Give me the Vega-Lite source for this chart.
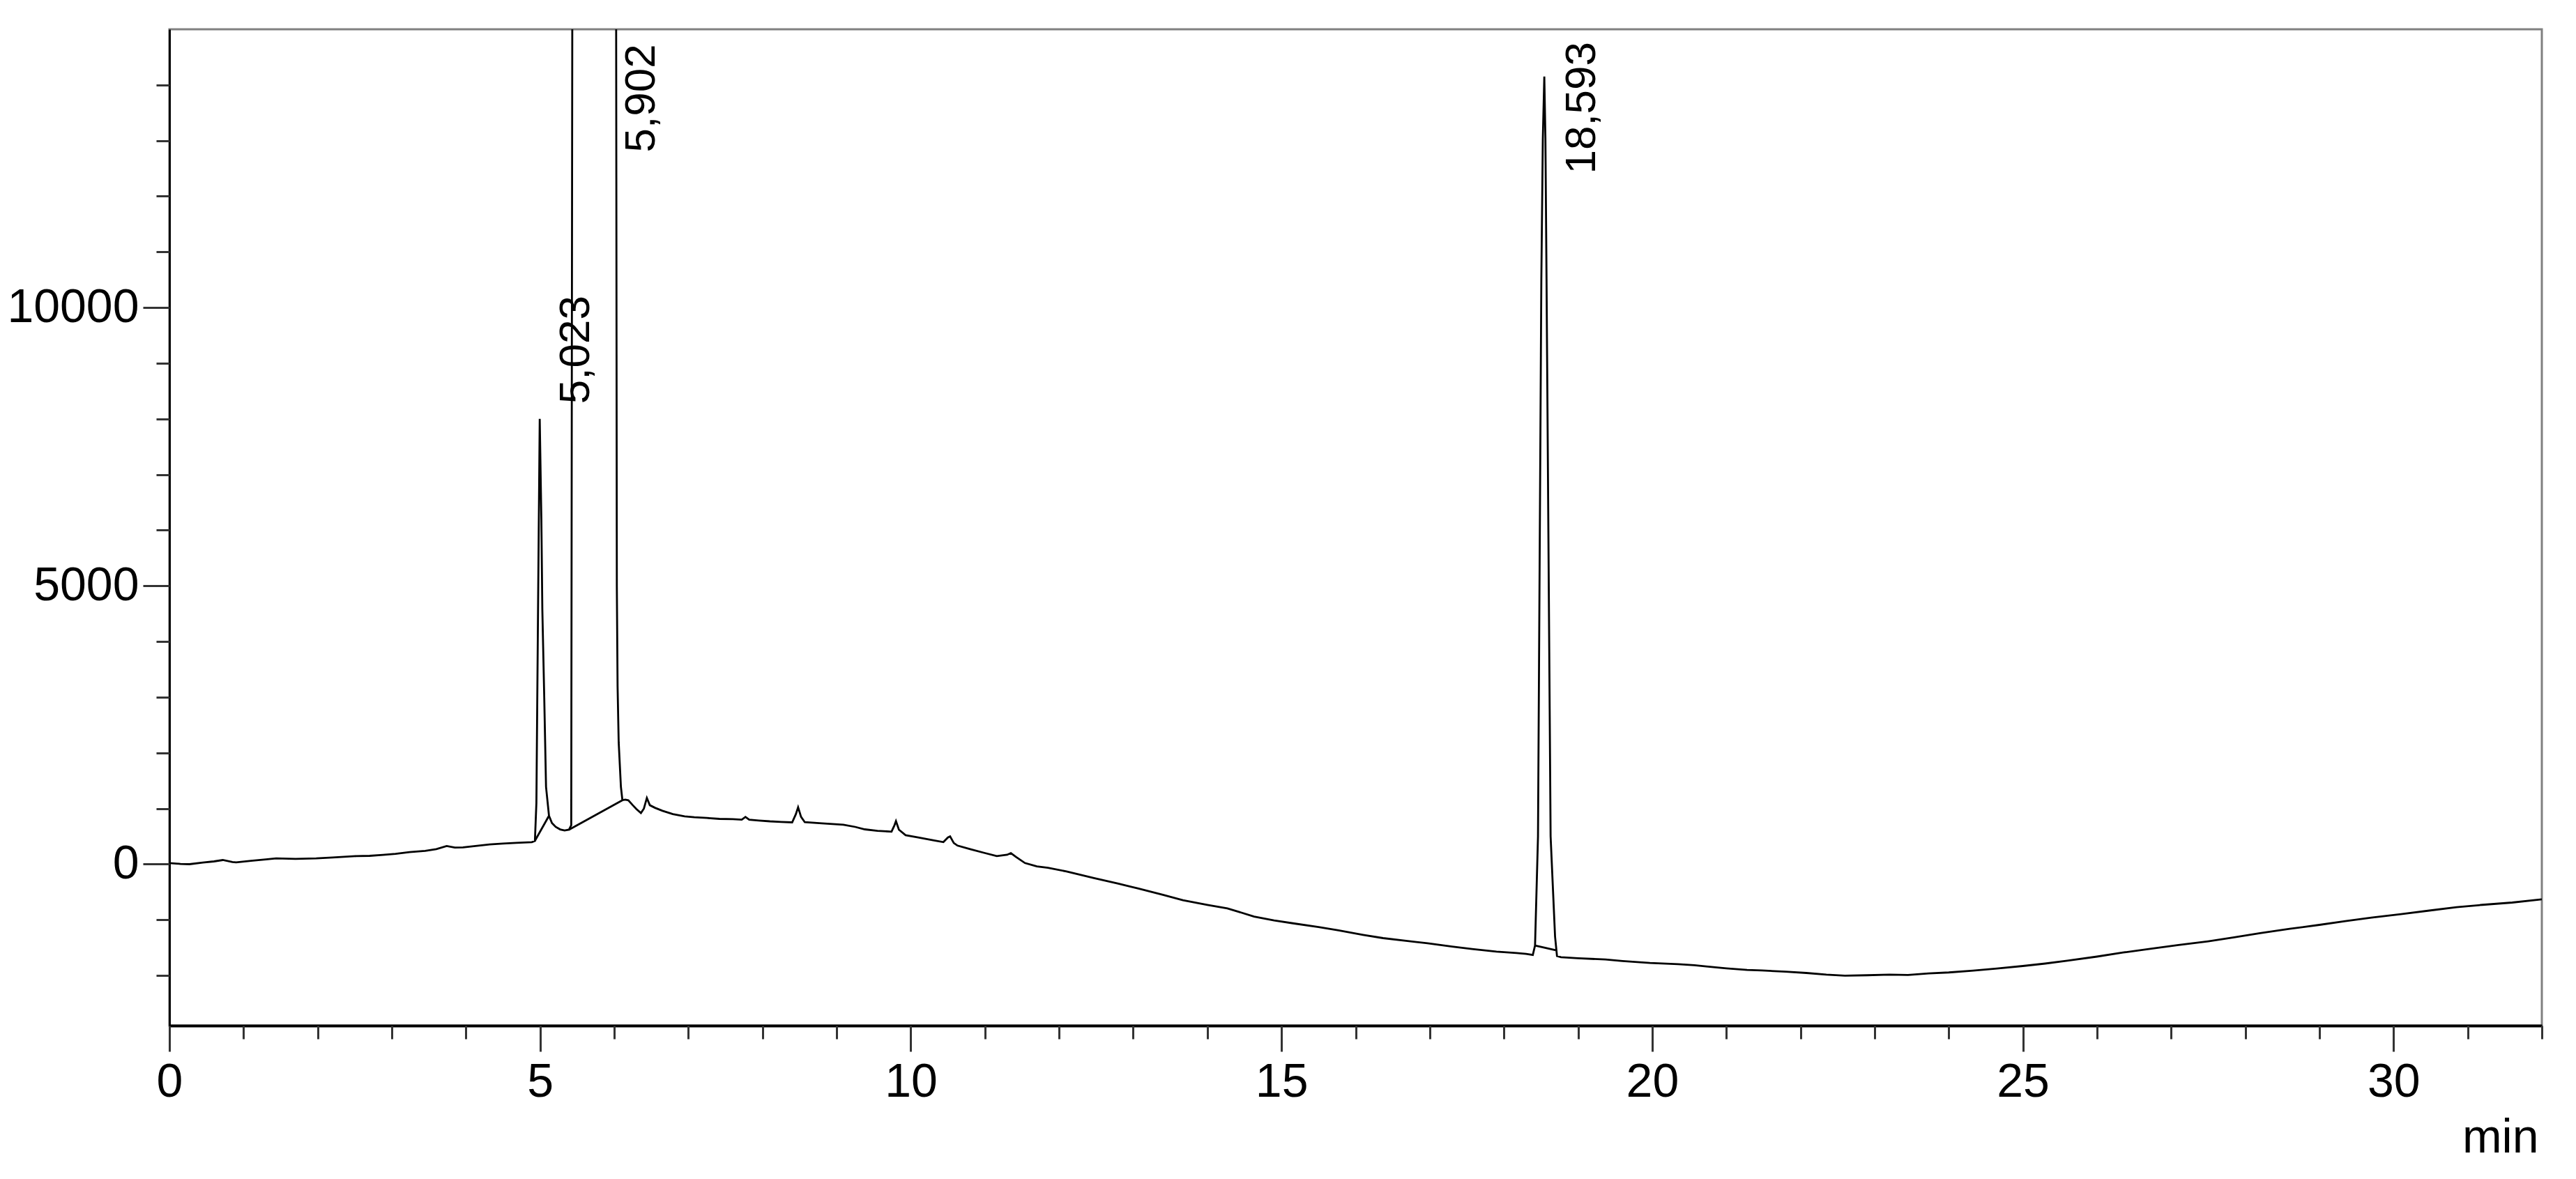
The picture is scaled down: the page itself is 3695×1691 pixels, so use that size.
{
  "$schema": "https://vega.github.io/schema/vega-lite/v6.json",
  "width": 3403,
  "height": 1429,
  "autosize": {"type": "none"},
  "padding": {"left": 243, "top": 42, "right": 49, "bottom": 220},
  "background": "white",
  "config": {
    "view": {"stroke": "#808080", "strokeWidth": 3},
    "font": "Liberation Sans",
    "axis": {"grid": false, "labelFont": "Liberation Sans", "titleFont": "Liberation Sans", "labelColor": "#000", "titleColor": "#000", "tickColor": "#333", "domainColor": "#000", "labelLimit": 0}
  },
  "datasets": {
    "trace": [
      {"t": 0, "v": 20}, {"t": 0.15, "v": 5}, {"t": 0.27, "v": 0}, {"t": 0.45, "v": 30}, {"t": 0.6, "v": 50}, {"t": 0.72, "v": 75}, {"t": 0.85, "v": 40}, {"t": 0.9, "v": 33}, {"t": 1.1, "v": 60}, {"t": 1.3, "v": 85}, {"t": 1.44, "v": 104}, {"t": 1.7, "v": 95}, {"t": 1.98, "v": 104}, {"t": 2.2, "v": 120}, {"t": 2.52, "v": 146}, {"t": 2.7, "v": 150}, {"t": 2.88, "v": 167}, {"t": 3.05, "v": 185}, {"t": 3.24, "v": 217}, {"t": 3.45, "v": 240}, {"t": 3.6, "v": 271}, {"t": 3.74, "v": 326}, {"t": 3.85, "v": 300}, {"t": 3.96, "v": 301}, {"t": 4.15, "v": 330}, {"t": 4.32, "v": 355}, {"t": 4.5, "v": 370}, {"t": 4.68, "v": 384}, {"t": 4.89, "v": 397}, {"t": 4.93, "v": 420},
      {"t": 4.95, "v": 1100}, {"t": 4.975, "v": 5000}, {"t": 4.995, "v": 8000}, {"t": 5.017, "v": 6190}, {"t": 5.03, "v": 4580}, {"t": 5.056, "v": 2990}, {"t": 5.08, "v": 1390}, {"t": 5.12, "v": 870}, {"t": 5.16, "v": 740}, {"t": 5.21, "v": 670}, {"t": 5.27, "v": 625}, {"t": 5.33, "v": 606}, {"t": 5.39, "v": 620}, {"t": 5.42, "v": 700},
      {"t": 5.435, "v": 16000}, {"t": 5.902, "v": 40000}, {"t": 6.025, "v": 16000}, {"t": 6.035, "v": 5000}, {"t": 6.045, "v": 3200}, {"t": 6.06, "v": 2190}, {"t": 6.09, "v": 1390}, {"t": 6.11, "v": 1150},
      {"t": 6.15, "v": 1160}, {"t": 6.19, "v": 1148}, {"t": 6.25, "v": 1060}, {"t": 6.3, "v": 990}, {"t": 6.36, "v": 920}, {"t": 6.4, "v": 1000}, {"t": 6.44, "v": 1190}, {"t": 6.48, "v": 1060}, {"t": 6.55, "v": 1013}, {"t": 6.65, "v": 960}, {"t": 6.79, "v": 900}, {"t": 6.95, "v": 860}, {"t": 7.08, "v": 843}, {"t": 7.25, "v": 830}, {"t": 7.42, "v": 814}, {"t": 7.6, "v": 810}, {"t": 7.72, "v": 800}, {"t": 7.77, "v": 850}, {"t": 7.82, "v": 800}, {"t": 7.95, "v": 785}, {"t": 8.1, "v": 770}, {"t": 8.25, "v": 760}, {"t": 8.4, "v": 752}, {"t": 8.45, "v": 900}, {"t": 8.48, "v": 1023}, {"t": 8.52, "v": 850}, {"t": 8.57, "v": 755}, {"t": 8.8, "v": 735}, {"t": 9.09, "v": 710}, {"t": 9.25, "v": 670}, {"t": 9.38, "v": 626}, {"t": 9.55, "v": 600}, {"t": 9.74, "v": 585}, {"t": 9.78, "v": 700}, {"t": 9.8, "v": 773}, {"t": 9.84, "v": 620}, {"t": 9.93, "v": 522}, {"t": 10.1, "v": 480}, {"t": 10.3, "v": 430}, {"t": 10.44, "v": 397}, {"t": 10.5, "v": 480}, {"t": 10.53, "v": 500}, {"t": 10.58, "v": 380}, {"t": 10.63, "v": 334}, {"t": 10.8, "v": 270}, {"t": 11.0, "v": 200}, {"t": 11.16, "v": 146}, {"t": 11.3, "v": 170}, {"t": 11.35, "v": 200}, {"t": 11.42, "v": 130}, {"t": 11.54, "v": 21}, {"t": 11.7, "v": -40}, {"t": 11.85, "v": -65},
      {"t": 12.1, "v": -130}, {"t": 12.47, "v": -250}, {"t": 12.8, "v": -350}, {"t": 13.07, "v": -438}, {"t": 13.4, "v": -550}, {"t": 13.67, "v": -647}, {"t": 14.0, "v": -730}, {"t": 14.27, "v": -793}, {"t": 14.63, "v": -940}, {"t": 14.9, "v": -1010}, {"t": 15.17, "v": -1065}, {"t": 15.5, "v": -1130}, {"t": 15.77, "v": -1190}, {"t": 16.1, "v": -1270}, {"t": 16.37, "v": -1328}, {"t": 16.7, "v": -1380}, {"t": 16.97, "v": -1420}, {"t": 17.3, "v": -1480}, {"t": 17.57, "v": -1524}, {"t": 17.9, "v": -1570}, {"t": 18.17, "v": -1595}, {"t": 18.3, "v": -1610}, {"t": 18.39, "v": -1630},
      {"t": 18.42, "v": -1460}, {"t": 18.46, "v": 500}, {"t": 18.505, "v": 10520}, {"t": 18.525, "v": 13030}, {"t": 18.545, "v": 14150}, {"t": 18.56, "v": 13030}, {"t": 18.575, "v": 10520}, {"t": 18.63, "v": 500}, {"t": 18.69, "v": -1300}, {"t": 18.716, "v": -1650},
      {"t": 18.77, "v": -1670}, {"t": 19.0, "v": -1690}, {"t": 19.37, "v": -1712}, {"t": 19.6, "v": -1740}, {"t": 19.97, "v": -1775}, {"t": 20.35, "v": -1795}, {"t": 20.57, "v": -1816}, {"t": 20.73, "v": -1837}, {"t": 21.0, "v": -1870}, {"t": 21.28, "v": -1900}, {"t": 21.48, "v": -1910}, {"t": 21.8, "v": -1930}, {"t": 22.08, "v": -1954}, {"t": 22.35, "v": -1985}, {"t": 22.6, "v": -2004}, {"t": 22.9, "v": -1995}, {"t": 23.2, "v": -1983}, {"t": 23.45, "v": -1990}, {"t": 23.73, "v": -1963}, {"t": 24.0, "v": -1945}, {"t": 24.33, "v": -1913}, {"t": 24.65, "v": -1875}, {"t": 25.0, "v": -1829}, {"t": 25.3, "v": -1785}, {"t": 25.6, "v": -1733}, {"t": 26.0, "v": -1660}, {"t": 26.35, "v": -1587}, {"t": 26.7, "v": -1525}, {"t": 27.1, "v": -1453}, {"t": 27.5, "v": -1385}, {"t": 27.85, "v": -1315}, {"t": 28.2, "v": -1240}, {"t": 28.6, "v": -1161}, {"t": 29.0, "v": -1090}, {"t": 29.35, "v": -1023}, {"t": 29.7, "v": -960}, {"t": 30.1, "v": -898}, {"t": 30.5, "v": -830}, {"t": 30.85, "v": -773}, {"t": 31.2, "v": -730}, {"t": 31.6, "v": -689}, {"t": 32.0, "v": -630}
    ],
    "base": [
      {"s": "b1", "t": 4.93, "v": 420}, {"s": "b1", "t": 5.12, "v": 870},
      {"s": "b2", "t": 5.39, "v": 620}, {"s": "b2", "t": 6.11, "v": 1150},
      {"s": "b3", "t": 18.42, "v": -1460}, {"s": "b3", "t": 18.7, "v": -1545}
    ],
    "peaks": [
      {"rt": 5.023, "label": "5,023", "ly": 8270},
      {"rt": 5.902, "label": "5,902", "ly": 12790},
      {"rt": 18.593, "label": "18,593", "ly": 12400}
    ]
  },
  "layer": [
    {
      "data": {"name": "trace"},
      "mark": {"type": "line", "clip": true, "color": "#000", "strokeWidth": 2.8},
      "encoding": {
        "x": {"field": "t", "type": "quantitative", "scale": {"domain": [0, 32], "nice": false, "zero": false},
          "axis": {"orient": "bottom", "values": [0, 5, 10, 15, 20, 25, 30], "format": "d", "tickSize": 37, "tickWidth": 3, "domainWidth": 4, "labelFontSize": 68, "labelPadding": 10, "labelFlush": false,
            "title": "min", "titleFontSize": 68, "titleFontWeight": "normal", "titleAlign": "right", "titleAnchor": "end", "titleBaseline": "alphabetic", "titleX": 3398, "titleY": 181}},
        "y": {"field": "v", "type": "quantitative", "scale": {"domain": [-2900, 15000], "nice": false, "zero": false},
          "axis": {"orient": "left", "values": [0, 5000, 10000], "format": "d", "tickSize": 38, "tickWidth": 3, "domainWidth": 3, "labelFontSize": 68, "labelPadding": 6, "title": null}}
      }
    },
    {
      "data": {"name": "base"},
      "mark": {"type": "line", "clip": true, "color": "#000", "strokeWidth": 2.8},
      "encoding": {
        "detail": {"field": "s"},
        "x": {"field": "t", "type": "quantitative", "scale": {"domain": [0, 32], "nice": false, "zero": false},
          "axis": {"orient": "bottom", "values": [0,1,2,3,4,5,6,7,8,9,10,11,12,13,14,15,16,17,18,19,20,21,22,23,24,25,26,27,28,29,30,31,32], "labels": false, "domain": false, "tickSize": 19, "tickWidth": 3, "title": null}},
        "y": {"field": "v", "type": "quantitative", "scale": {"domain": [-2900, 15000], "nice": false, "zero": false},
          "axis": {"orient": "left", "values": [-2000,-1000,0,1000,2000,3000,4000,5000,6000,7000,8000,9000,10000,11000,12000,13000,14000], "labels": false, "domain": false, "tickSize": 19, "tickWidth": 3, "title": null}}
      }
    },
    {
      "data": {"name": "peaks"},
      "mark": {"type": "text", "angle": 270, "align": "left", "baseline": "alphabetic", "dy": 68, "fontSize": 62, "font": "Liberation Sans", "color": "#000"},
      "encoding": {
        "x": {"field": "rt", "type": "quantitative", "axis": null},
        "y": {"field": "ly", "type": "quantitative", "axis": null},
        "text": {"field": "label"}
      }
    },
    {
      "mark": {"type": "text", "text": "SFID1", "align": "right", "baseline": "top", "dx": -13, "dy": 11, "fontSize": 67, "font": "Liberation Sans", "color": "#000"},
      "encoding": {
        "x": {"datum": 32, "type": "quantitative", "axis": null},
        "y": {"datum": 15000, "type": "quantitative", "axis": null}
      }
    }
  ],
  "resolve": {"axis": {"x": "independent", "y": "independent"}}
}
